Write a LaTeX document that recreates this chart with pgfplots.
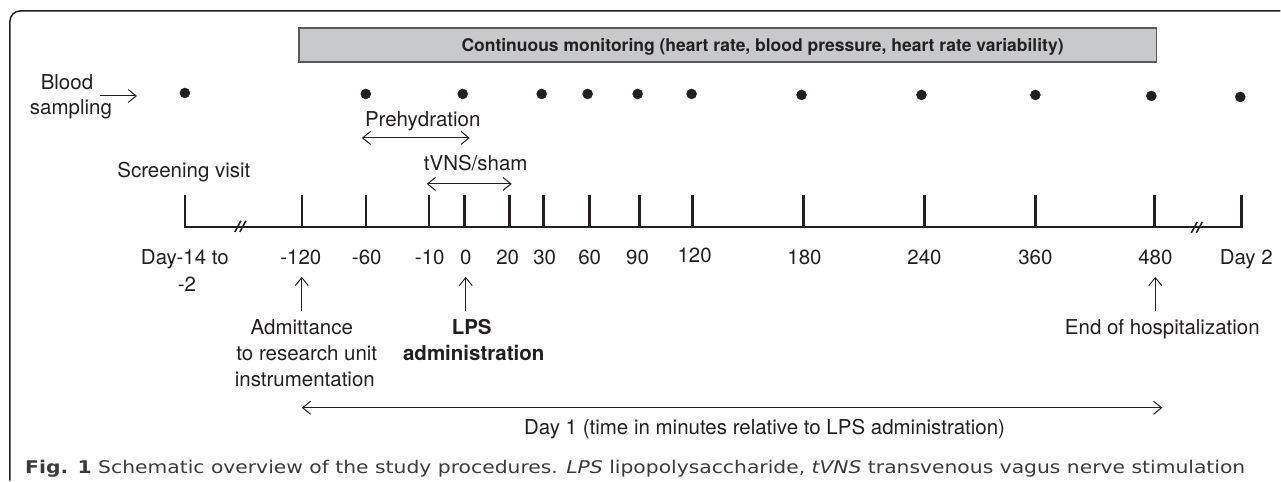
\documentclass[border=0pt]{standalone}
\usepackage{pgfplots}
\pgfplotsset{compat=1.18}
\usepackage{pgfplotstable}
\usepackage{fontspec}
\setmainfont{TeX Gyre Heros}
\newfontfamily\capfont{DejaVu Sans}
\usetikzlibrary{arrows.meta}
\definecolor{ink}{HTML}{231F20}
\definecolor{boxgray}{HTML}{C8C9CA}
\definecolor{boxedge}{HTML}{5A5A5A}
\definecolor{capgray}{HTML}{3A3A3A}

% blood sampling dots (pixel positions)
\pgfplotstableread{
x y
185 93
366 94
463 94
542 94
588 94
638 94
692 94
802 95
922 95
1036 95
1152 96
1241 97
}\blood

% timeline ticks
\pgfplotstableread{
x y
185 211.5
302 211.5
366 211.5
429 211.5
465 211.5
510 211.5
544 211.5
590 211.5
640 211.5
693 211.5
804 211.5
925 211.5
1036 211.5
1155 211.5
1242 211.5
}\ticks

\tikzset{
  lab/.style={text=ink, anchor=base, inner sep=0pt, font=\fontsize{20.5}{26}\selectfont},
  blab/.style={text=ink, anchor=base, inner sep=0pt, font=\fontsize{20.5}{26}\selectfont\bfseries},
}

\begin{document}
\begin{tikzpicture}[>={Straight Barb[length=8pt,width=13pt]}]
\begin{axis}[
  scale only axis, width=1281pt, height=481pt,
  xmin=0, xmax=1281, ymin=0, ymax=481, y dir=reverse,
  hide axis, clip=false,
]
\path (axis cs:0,0) rectangle (axis cs:1281,481);

% frame
\addplot[ink, line width=1.5pt, rounded corners=10pt] coordinates {(10,481) (10,11) (1281,11)};

% monitoring box
\addplot[fill=boxgray, draw=boxedge, line width=1.5pt] coordinates {(299,28) (1157,28) (1157,62) (299,62)} -- cycle;
\node[text=ink, anchor=base, inner sep=0pt, font=\fontsize{17.5}{20}\selectfont\bfseries] at (axis cs:763,52) {Continuous monitoring (heart rate, blood pressure, heart rate variability)};

% blood sampling
\node[lab] at (axis cs:67,90) {Blood};
\node[lab] at (axis cs:71,115) {sampling};
\addplot[ink, line width=1pt, ->] coordinates {(100,96) (137,96)};
\addplot[only marks, mark=*, mark size=5pt, ink] table {\blood};

% prehydration and tVNS
\node[lab] at (axis cs:423,127) {Prehydration};
\addplot[ink, line width=1pt, <->] coordinates {(362,138) (470,138)};
\node[lab] at (axis cs:476,171) {tVNS/sham};
\addplot[ink, line width=1pt, <->] coordinates {(427,184) (512,184)};

\node[lab] at (axis cs:184,178) {Screening visit};

% timeline
\addplot[ink, line width=2.5pt] coordinates {(185,227) (1242,227)};
\addplot[only marks, mark=|, mark size=16.5pt, mark options={line width=2.5pt, ink}] table {\ticks};
\addplot[ink, line width=1.6pt] coordinates {(235,232) (241,221)};
\addplot[ink, line width=1.6pt] coordinates {(240,232) (246,221)};
\addplot[ink, line width=1.6pt] coordinates {(1192,233) (1198,222)};
\addplot[ink, line width=1.6pt] coordinates {(1197,233) (1203,222)};

% tick labels
\node[lab] at (axis cs:185,265) {Day-14 to};
\node[lab] at (axis cs:187,292) {-2};
\node[lab] at (axis cs:301,265) {-120};
\node[lab] at (axis cs:367,265) {-60};
\node[lab] at (axis cs:430,265) {-10};
\node[lab] at (axis cs:466,265) {0};
\node[lab] at (axis cs:508,265) {20};
\node[lab] at (axis cs:545,265) {30};
\node[lab] at (axis cs:590,265) {60};
\node[lab] at (axis cs:638,265) {90};
\node[lab] at (axis cs:695,263) {120};
\node[lab] at (axis cs:805,265) {180};
\node[lab] at (axis cs:925,265) {240};
\node[lab] at (axis cs:1036,265) {360};
\node[lab] at (axis cs:1156,265) {480};
\node[lab] at (axis cs:1247,265) {Day 2};

% event arrows
\addplot[ink, line width=1pt, ->] coordinates {(302,311) (302,277)};
\addplot[ink, line width=1pt, ->] coordinates {(466,311) (466,277)};
\addplot[ink, line width=1pt, ->] coordinates {(1156,311) (1156,277)};

\node[lab] at (axis cs:302,335) {Admittance};
\node[lab] at (axis cs:307,361) {to research unit};
\node[lab] at (axis cs:305,387) {instrumentation};
\node[blab] at (axis cs:472,335) {LPS};
\node[blab] at (axis cs:474,361) {administration};
\node[lab] at (axis cs:1163,335) {End of hospitalization};

% day 1 span
\addplot[ink, line width=1pt, <->] coordinates {(302,408) (1163,408)};
\node[lab] at (axis cs:765,435) {Day 1 (time in minutes relative to LPS administration)};

% caption
\node[anchor=base west, inner sep=0pt, text=capgray, xscale=1.16, transform shape, font=\capfont\fontsize{17.5}{20}\selectfont] at (axis cs:25,474)
  {\textbf{Fig. 1} Schematic overview of the study procedures. \textit{LPS} lipopolysaccharide, \textit{tVNS} transvenous vagus nerve stimulation};
\end{axis}
\end{tikzpicture}
\end{document}
